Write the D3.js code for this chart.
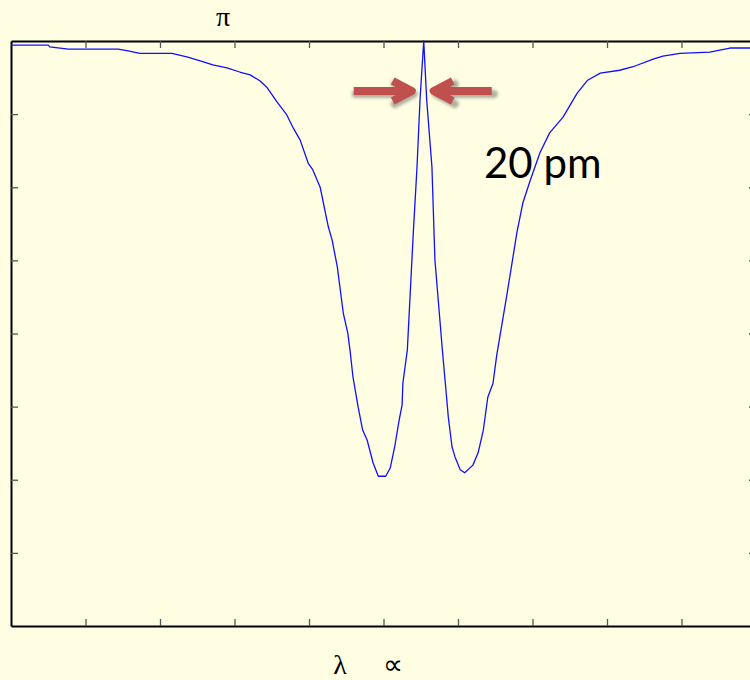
<!DOCTYPE html>
<html>
<head>
<meta charset="utf-8">
<script src="https://cdn.jsdelivr.net/npm/d3@7"></script>
<style>
  html, body { margin: 0; padding: 0; background: #fffee2; }
  svg { display: block; }
  .axis path { stroke: #000; stroke-width: 2; }
  .axis line { stroke: #555; stroke-width: 1.3; }
</style>
</head>
<body>
<div id="chart"></div>
<script>
// wavelength (arbitrary units, one tick per unit) and normalised transmission
var wavelength = [0, 0.50, 0.52, 0.77, 1.44, 1.57, 1.73, 2.16, 2.36, 2.54, 2.71, 2.90, 3.07, 3.21,
	3.34, 3.44, 3.57, 3.70, 3.79, 3.88, 3.99, 4.05, 4.15, 4.26, 4.31, 4.38, 4.46, 4.52, 4.55,
	4.59, 4.66, 4.72, 4.78, 4.86, 4.93, 5.03, 5.09, 5.15, 5.21, 5.25, 5.26, 5.32, 5.40, 5.45,
	5.49, 5.54, 5.58, 5.65, 5.69, 5.79, 5.83, 5.87, 5.92, 5.96, 6.03, 6.09, 6.20, 6.27, 6.34,
	6.40, 6.47, 6.52, 6.66, 6.79, 6.87, 6.97, 7.10, 7.23, 7.41, 7.60, 7.74, 7.91, 8.17, 8.35,
	8.62, 8.75, 8.98, 9.38, 9.65, 10.0];
var transmission = [0.993, 0.993, 0.990, 0.986, 0.986, 0.983, 0.979, 0.979, 0.973, 0.966, 0.959,
	0.954, 0.947, 0.942, 0.932, 0.920, 0.896, 0.874, 0.851, 0.831, 0.791, 0.780, 0.750, 0.682,
	0.660, 0.614, 0.535, 0.501, 0.472, 0.426, 0.374, 0.335, 0.318, 0.279, 0.256, 0.256, 0.270,
	0.306, 0.352, 0.378, 0.415, 0.472, 0.672, 0.785, 0.899, 1.000, 0.899, 0.785, 0.626, 0.472,
	0.415, 0.357, 0.306, 0.289, 0.267, 0.262, 0.275, 0.296, 0.335, 0.391, 0.415, 0.463, 0.569,
	0.672, 0.723, 0.762, 0.809, 0.843, 0.870, 0.911, 0.933, 0.945, 0.950, 0.956, 0.969, 0.974,
	0.979, 0.981, 0.988, 0.988];

var xTicks = [1, 2, 3, 4, 5, 6, 7, 8, 9];
var yTicks = [0.125, 0.25, 0.375, 0.5, 0.625, 0.75, 0.875];
var topLabel = "π";
var bottomLabel = ["λ", "∝"];
var widthLabel = "20 pm";

var W = 750, H = 680;
var plot = { left: 11, top: 41, right: 756, bottom: 626 };

var svg = d3.select("#chart").append("svg")
	.attr("width", W)
	.attr("height", H);

svg.append("rect")
	.attr("width", W).attr("height", H)
	.attr("fill", "#fffee2");

var x = d3.scaleLinear().domain([0, 10]).range([plot.left, plot.right]);
var y = d3.scaleLinear().domain([0, 1]).range([plot.bottom, plot.top]);

var data = wavelength.map(function (d, i) { return { w: d, t: transmission[i] }; });

// frame axes with inward ticks
var fmt = function () { return ""; };
svg.append("g").attr("class", "axis")
	.attr("transform", "translate(0," + plot.bottom + ")")
	.call(d3.axisBottom(x).tickValues(xTicks).tickSize(-7).tickSizeOuter(0).tickFormat(fmt));
svg.append("g").attr("class", "axis")
	.attr("transform", "translate(0," + plot.top + ")")
	.call(d3.axisTop(x).tickValues(xTicks).tickSize(-7).tickSizeOuter(0).tickFormat(fmt));
svg.append("g").attr("class", "axis")
	.attr("transform", "translate(" + plot.left + ",0)")
	.call(d3.axisLeft(y).tickValues(yTicks).tickSize(-7).tickSizeOuter(0).tickFormat(fmt));
svg.append("g").attr("class", "axis")
	.attr("transform", "translate(" + plot.right + ",0)")
	.call(d3.axisRight(y).tickValues(yTicks).tickSize(-7).tickSizeOuter(0).tickFormat(fmt));

// spectrum
var line = d3.line()
	.x(function (d) { return x(d.w); })
	.y(function (d) { return y(d.t); });

svg.append("path")
	.datum(data)
	.attr("fill", "none")
	.attr("stroke", "#1010ff")
	.attr("stroke-width", 1.3)
	.attr("stroke-linejoin", "round")
	.attr("d", line);

// arrows pointing at the central peak
var defs = svg.append("defs");
defs.append("filter").attr("id", "blur")
	.attr("x", "-20%").attr("y", "-50%").attr("width", "140%").attr("height", "200%")
	.append("feGaussianBlur").attr("stdDeviation", 1.5);

var peak = data[d3.maxIndex(data, function (d) { return d.t; })];
var px = x(peak.w), ay = 91;

function arrow(g, tip, dir) {
	// dir: +1 points right, -1 points left
	var tail = tip - dir * 60;
	var p = "M" + tail + "," + ay + "L" + (tip - dir * 4) + "," + ay +
		"M" + (tip - dir * 21) + "," + (ay - 10) + "L" + (tip - dir * 2) + "," + ay +
		"L" + (tip - dir * 21) + "," + (ay + 10);
	g.append("path").attr("d", p)
		.attr("fill", "none").attr("stroke", "#b0b0a0").attr("stroke-width", 8)
		.attr("stroke-linecap", "round").attr("stroke-linejoin", "round")
		.attr("transform", "translate(2,3)")
		.attr("filter", "url(#blur)");
	g.append("path").attr("d", p)
		.attr("fill", "none").attr("stroke", "#c0504d").attr("stroke-width", 8)
		.attr("stroke-linecap", "butt").attr("stroke-linejoin", "round");
}
var arrows = svg.append("g");
arrow(arrows, px - 10, 1);
arrow(arrows, px + 8, -1);

svg.append("text")
	.attr("x", 484).attr("y", 178)
	.attr("font-family", "Lato, 'Open Sans', sans-serif")
	.attr("font-size", 42)
	.attr("fill", "#000")
	.text(widthLabel);

// axis labels
svg.append("text")
	.attr("x", 223).attr("y", 26)
	.attr("text-anchor", "middle")
	.attr("font-family", "'Liberation Serif', serif")
	.attr("font-size", 28)
	.text(topLabel);

svg.append("text")
	.attr("x", 340).attr("y", 674)
	.attr("text-anchor", "middle")
	.attr("font-family", "'Liberation Serif', serif")
	.attr("font-size", 28)
	.text(bottomLabel[0]);

svg.append("text")
	.attr("x", 393).attr("y", 673.5)
	.attr("text-anchor", "middle")
	.attr("font-family", "'Liberation Serif', serif")
	.attr("font-size", 28)
	.text(bottomLabel[1]);
</script>
</body>
</html>
